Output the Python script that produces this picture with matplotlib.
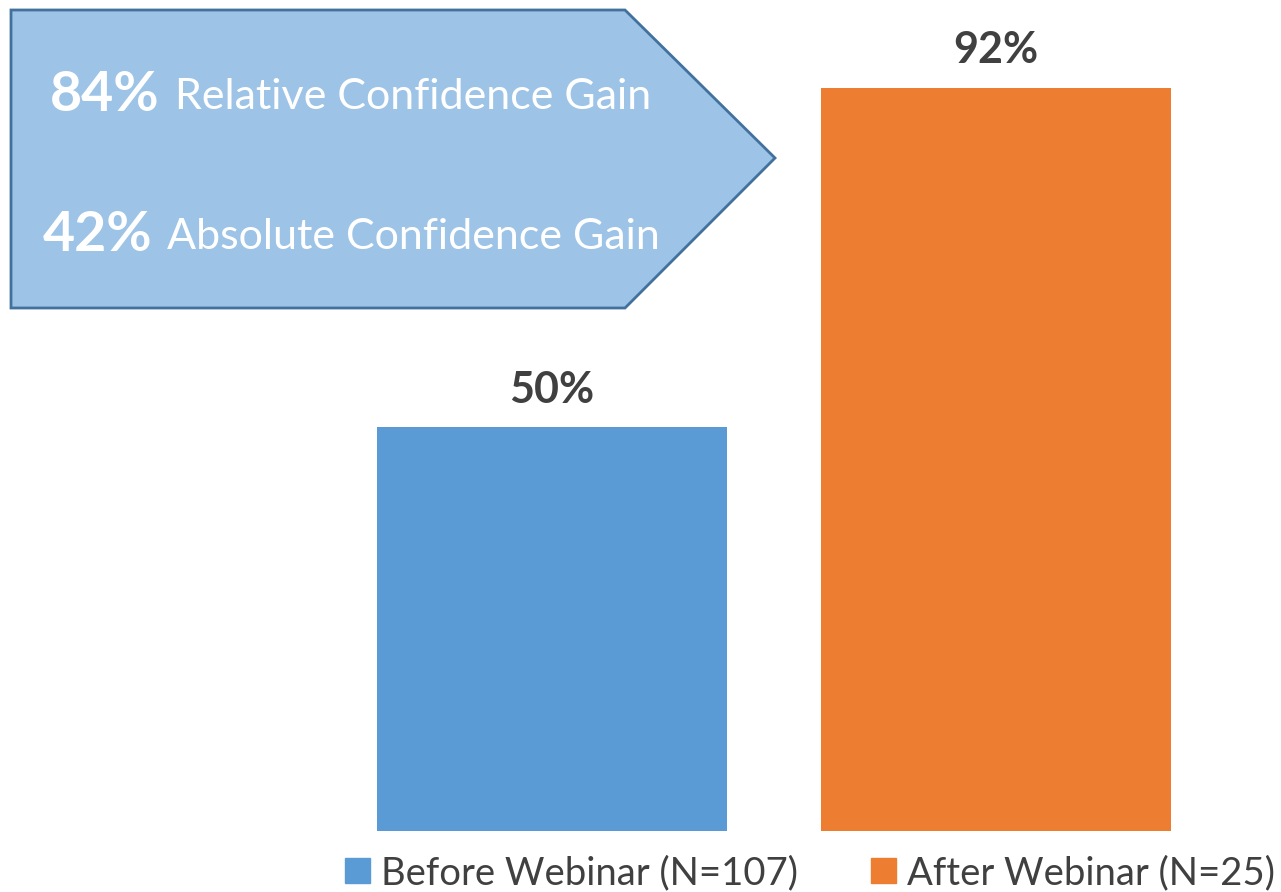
import matplotlib.pyplot as plt
from matplotlib.patches import Polygon, Patch

# data
groups = ['Before Webinar (N=107)', 'After Webinar (N=25)']
values = [50, 92]
colors = ['#5B9BD5', '#ED7D31']
gain_values = ['84%', '42%']
gain_labels = ['Relative Confidence Gain', 'Absolute Confidence Gain']

plt.rcParams['font.family'] = ['Lato', 'DejaVu Sans']

W, H = 1281, 892
fig = plt.figure(figsize=(W / 100, H / 100), dpi=100)

# bar axes: x pixels 330..1218, baseline at y=831, 100% at y=23
ax = fig.add_axes([330 / W, (H - 831) / H, 888 / W, 808 / H])
x = list(range(len(values)))
ax.bar(x, values, width=350 / 444, color=colors)
ax.set_xlim(-0.5, 1.5)
ax.set_ylim(0, 100)
ax.axis('off')

for xi, v in zip(x, values):
    ax.text(xi, v + 4.6, f'{v}%', ha='center', va='center',
            fontsize=31, fontweight='bold', color='#404040')

# legend
handles = [Patch(color=c, label=g) for c, g in zip(colors, groups)]
fig.legend(handles=handles, loc='center', bbox_to_anchor=(810 / W, (H - 873) / H),
           ncol=2, frameon=False, fontsize=27.5, handlelength=0.65, handleheight=0.65,
           handletextpad=0.3, columnspacing=1.9, labelcolor='#404040')

# arrow callout drawn in pixel coords
over = fig.add_axes([0, 0, 1, 1], zorder=-1)
over.set_xlim(0, W)
over.set_ylim(H, 0)
over.axis('off')
arrow = Polygon([(11, 10), (625, 10), (775, 158), (625, 308), (11, 308)],
                closed=True, facecolor='#9DC3E6', edgecolor='#41719C', linewidth=2)
over.add_patch(arrow)

over.text(160, 95, gain_values[0], ha='right', va='center', fontsize=40,
          fontweight='bold', color='white')
over.text(175, 97, gain_labels[0], ha='left', va='center', fontsize=31, color='white')
over.text(152, 235, gain_values[1], ha='right', va='center', fontsize=40,
          fontweight='bold', color='white')
over.text(167, 237, gain_labels[1], ha='left', va='center', fontsize=31, color='white')

fig.savefig('out.png', dpi=100)
